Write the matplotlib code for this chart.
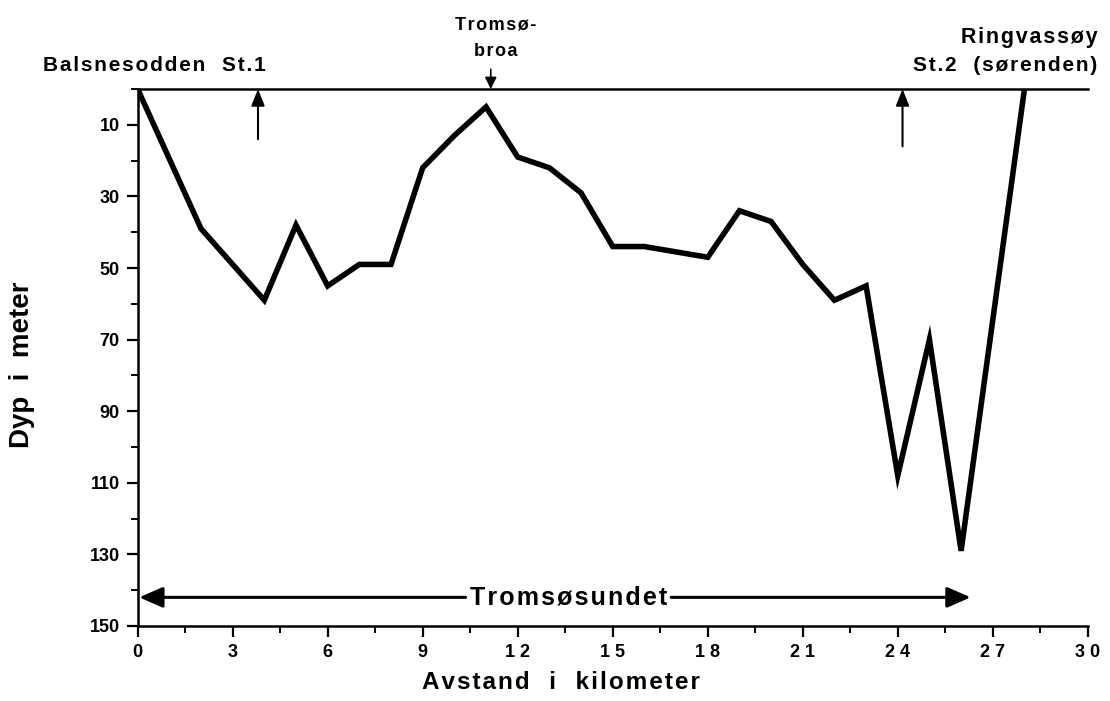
import numpy as np
import matplotlib
matplotlib.use('Agg')
import matplotlib.pyplot as plt
from matplotlib.ticker import MultipleLocator

# depth profile along Tromsøsundet (km, m)
dist_km = [0, 2, 4, 5, 6, 7, 8, 9, 10, 11, 12, 13, 14, 15, 16, 17, 18,
           19, 20, 21, 22, 23, 24, 25, 26, 28]
depth_m = [0, 39, 59, 38, 55, 49, 49, 22, 13, 5, 19, 22, 29, 44, 44, 45.5, 47,
           34, 37, 49, 59, 55, 108, 70, 129, 0]

xticks = [0, 3, 6, 9, 12, 15, 18, 21, 24, 27, 30]
xtick_labels = ['0', '3', '6', '9', '1 2', '1 5', '1 8', '2 1', '2 4', '2 7', '3 0']
yticks = [10, 30, 50, 70, 90, 110, 130, 150]

st1_km = 3.8
st2_km = 24.15
bridge_km = 11.15
sund_end_km = 26.3
sund_depth = 142


def spaced(s):
    # a little extra letter spacing, like the old typewriter-style labels
    return '\u200a'.join(s)


plt.rcParams['font.family'] = ['Liberation Sans', 'DejaVu Sans']
plt.rcParams['font.weight'] = 'bold'

fig = plt.figure(figsize=(11.1, 7.01), dpi=100)
ax = fig.add_axes([0.124, 0.107, 0.856, 0.766])

ax.plot(dist_km, depth_m, color='black', linewidth=4.0, solid_joinstyle='miter')

ax.set_xlim(0, 30)
ax.set_ylim(150, 0)
ax.set_xticks(xticks)
ax.set_xticklabels(xtick_labels)
ax.set_yticks(yticks)
ax.xaxis.set_minor_locator(MultipleLocator(1.5))
ax.yaxis.set_minor_locator(MultipleLocator(10))
ax.tick_params(which='major', direction='out', length=8, width=1.6, labelsize=13, pad=5)
ax.tick_params(which='minor', direction='out', length=5, width=1.4)
ax.spines['right'].set_visible(False)
for s in ['left', 'bottom', 'top']:
    ax.spines[s].set_linewidth(1.8)

ax.set_xlabel(spaced('Avstand  i  kilometer'), fontsize=17.5, fontweight='bold')
ax.xaxis.set_label_coords(0.445, -0.084)
ax.set_ylabel('Dyp  i  meter', fontsize=20, fontweight='bold')
ax.yaxis.set_label_coords(-0.108, 0.486)

# place names above the surface line
ax.text(-3.0, -6.7, spaced('Balsnesodden  St.1'), fontsize=15, ha='left', va='center', clip_on=False)
ax.text(bridge_km + 0.15, -17.9, spaced('Tromsø-'), fontsize=13, ha='center', va='center', clip_on=False)
ax.text(bridge_km + 0.15, -10.6, spaced('broa'), fontsize=13, ha='center', va='center', clip_on=False)
ax.text(30.3, -14.5, spaced('Ringvassøy'), fontsize=15.5, ha='right', va='center', clip_on=False)
ax.text(30.3, -6.7, spaced('St.2  (sørenden)'), fontsize=15, ha='right', va='center', clip_on=False)

# station arrows
arrow = dict(arrowstyle='-|>,head_length=1.0,head_width=0.4', color='black', lw=1.5,
             shrinkA=0, shrinkB=0)
ax.annotate('', xy=(st1_km, 0), xytext=(st1_km, 14), arrowprops=arrow)
ax.annotate('', xy=(st2_km, 0), xytext=(st2_km, 16), arrowprops=arrow)
ax.annotate('', xy=(bridge_km, 0), xytext=(bridge_km, -5.5), annotation_clip=False,
            arrowprops=dict(arrowstyle='-|>,head_length=0.7,head_width=0.35', color='black',
                            lw=1.2, shrinkA=0, shrinkB=0))

# Tromsøsundet double arrow
sund_arrow = dict(arrowstyle='-|>,head_length=0.8,head_width=0.35', color='black', lw=2.2,
                  shrinkA=1, shrinkB=0)
ax.annotate(spaced('Tromsøsundet'), xy=(0.05, sund_depth), xytext=(13.6, sund_depth),
            fontsize=18, ha='center', va='center', arrowprops=sund_arrow)
ax.annotate(spaced('Tromsøsundet'), xy=(sund_end_km, sund_depth), xytext=(13.6, sund_depth),
            fontsize=18, ha='center', va='center', color='none', arrowprops=sund_arrow)

fig.savefig('out.png', dpi=100)
